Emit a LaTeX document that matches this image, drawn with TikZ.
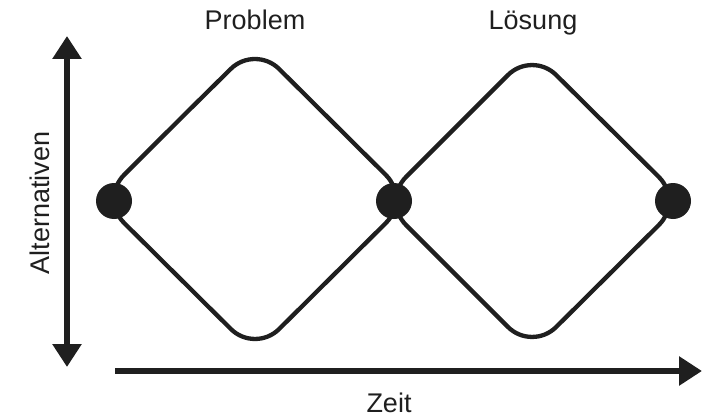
\documentclass[tikz,border=0pt]{standalone}
\usepackage{fontspec}
\setmainfont{Liberation Sans}
\usetikzlibrary{arrows.meta}
\begin{document}
\begin{tikzpicture}[x=1pt,y=-1pt,
  loop/.style={line width=4.3pt, rounded corners=34pt, color=black!88},
  dot/.style={circle, fill=black!88, minimum size=36pt, inner sep=0pt},
  axis/.style={line width=6pt, color=black!88, -{Triangle[length=23pt,width=28pt]}},
  axis2/.style={line width=6pt, color=black!88, {Triangle[length=23pt,width=28pt]}-{Triangle[length=23pt,width=28pt]}},
  lab/.style={font=\fontsize{27}{31}\selectfont, text=black!88, inner sep=0pt}]
\useasboundingbox (0,0) rectangle (711,417);
% diamonds
\draw[loop] (177,122) -- (255,45) -- (410,199) -- (255,353) -- (100,199) -- cycle;
\draw[loop] (457,126) -- (532,51) -- (683,201) -- (532,351) -- (382,201) -- cycle;
% dots
\node[dot] (d1) at (114,201) {};
\node[dot] (d2) at (394,201) {};
\node[dot] (d3) at (673,201) {};
% axes
\coordinate (vtop) at (67,36);
\coordinate (vbot) at (67,367);
\coordinate (hl) at (115,371);
\coordinate (hr) at (702,371);
\draw[axis2] (vbot) -- (vtop);
\draw[axis] (hl) -- (hr);
% labels
\node[lab, anchor=base] (p) at (255,30) {Problem};
\node[lab, anchor=base] (l) at (533,30) {Lösung};
\node[lab, anchor=base] (z) at (389,412) {Zeit};
\node[lab, anchor=base, rotate=90] (a) at (49,203) {Alternativen};
\end{tikzpicture}
\end{document}
